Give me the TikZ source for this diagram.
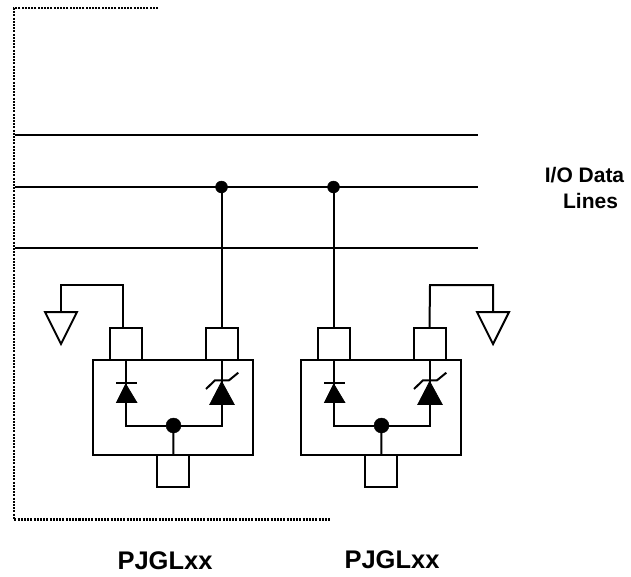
\documentclass[tikz,border=0pt]{standalone}
\usepackage{fontspec}
\setmainfont{Liberation Sans}
\usetikzlibrary{positioning}
\tikzset{
 wire/.style={line width=2pt},
 frameline/.style={line width=2.3pt, dash pattern=on 2pt off 1.2pt},
 chipbody/.style={draw, line width=2pt, rectangle, inner sep=0pt, minimum width=160pt, minimum height=95pt},
 pinbox/.style={draw, line width=2pt, fill=white, rectangle, inner sep=0pt, minimum size=32pt},
 junction/.style={draw, fill=black, circle, inner sep=0pt, minimum size=#1},
 partlabel/.style={font=\fontsize{25.5}{28}\selectfont\bfseries, anchor=base, inner sep=0pt},
 buslabel/.style={font=\fontsize{21}{24}\selectfont\bfseries, anchor=base, inner sep=0pt}
}
\begin{document}
\begin{tikzpicture}[x=1pt,y=-1pt]
 \useasboundingbox (0,0) rectangle (631,576);

 % frame
 \draw [frameline] (158,8) -- (14,8) -- (14,519.5) -- (331,519.5);

 % bus
 \coordinate (busa) at (15,135);
 \coordinate (busb) at (15,187);
 \coordinate (busc) at (15,248);
 \draw [wire] (busa) -- ++(463,0);
 \draw [wire] (busb) -- ++(463,0);
 \draw [wire] (busc) -- ++(463,0);
 \node [junction=12pt] (dotl) at (221.5,187) {};
 \node [junction=12pt] (dotr) at (333.5,187) {};

 % the two chips
 \foreach \chip/\dx in {l/0,r/208}{
  \begin{scope}[xshift=\dx pt]
   \node [chipbody] (body\chip) at (173.3,407.7) {};
   \node [pinbox] (pina\chip) at (125.5,344) {};
   \node [pinbox] (pinb\chip) at (221.5,344) {};
   \node [pinbox] (pinc\chip) at (173.3,471.3) {};
   \node [junction=15pt] (mid\chip) at (173.5,425.5) {};
   \draw [wire] (pina\chip.south) |- (mid\chip);
   \draw [wire] (pinb\chip.south) |- (mid\chip);
   \draw [wire] (mid\chip) -- (pinc\chip.north);
   % diode
   \draw [fill=black, line width=0.8pt] (116.5,402.5) -- (136.8,402.5) -- (125.7,384) -- cycle;
   \draw [wire] (116,383.3) -- (137.3,383.3);
   % zener
   \draw [fill=black, line width=0.8pt] (209.8,404.5) -- (234.2,404.5) -- (221.7,381.5) -- cycle;
   \draw [wire] (206,389) -- (215,380.3) -- (229,380.3) -- (238.3,372.7);
  \end{scope}
 }

 % data lines down to the chips
 \draw [wire] (dotl) -- (pinbl.north);
 \draw [wire] (dotr) -- (pinar.north);

 % grounds
 \coordinate (gndl) at (61,312);
 \coordinate (gndr) at (493,312);
 \draw [wire] (gndl) |- (123.3,285) -- ([xshift=-2.2pt]pinal.north);
 \draw [wire] (gndr) |- (430,285) -- (pinbr.north);
 \draw [wire, line join=miter] (gndl) -- ++(16,0) -- ++(-16,32) -- ++(-16,-32) -- cycle;
 \draw [wire, line join=miter] (gndr) -- ++(16,0) -- ++(-16,32) -- ++(-16,-32) -- cycle;

 % labels
 \node [buslabel] (iolabel) at (584.5,182.7) {I/O Data};
 \node [buslabel] (lineslabel) at (590.5,208) {Lines};
 \node [partlabel] (partl) at (165,569.5) {PJGLxx};
 \node [partlabel] (partr) at (392,568) {PJGLxx};
\end{tikzpicture}
\end{document}
